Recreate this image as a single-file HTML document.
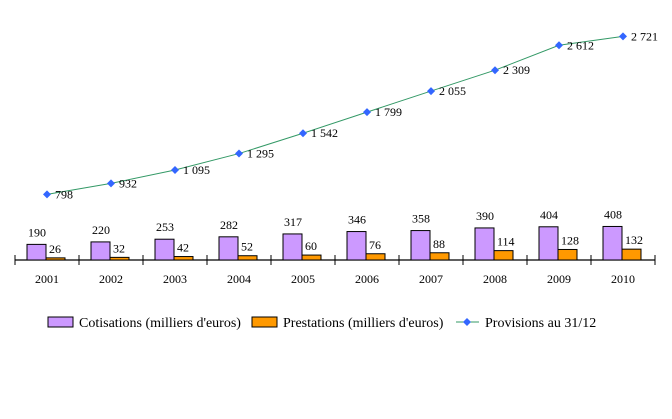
<!DOCTYPE html>
<html><head><meta charset="utf-8"><style>
body{margin:0;background:#fff;}
svg{display:block;}
svg text{font-family:"Liberation Serif","DejaVu Serif",serif;}
</style></head><body>
<svg id="chart" width="672" height="419"></svg>
<script>
const years=["2001","2002","2003","2004","2005","2006","2007","2008","2009","2010"];
const cotisations=[190,220,253,282,317,346,358,390,404,408];
const prestations=[26,32,42,52,60,76,88,114,128,132];
const provisions=[798,932,1095,1295,1542,1799,2055,2309,2612,2721];
const provLabels=["798","932","1 095","1 295","1 542","1 799","2 055","2 309","2 612","2 721"];
const NS="http://www.w3.org/2000/svg";
const svg=document.getElementById('chart');
const x0=15,cw=64,base=260,k=0.0822;
const y=v=>base-v*k;
const cx=i=>x0+cw*i+cw/2;
function mk(t,a,txt){const e=document.createElementNS(NS,t);for(const n in a)e.setAttribute(n,a[n]);if(txt!=null){e.textContent=txt;e.setAttribute('font-family','Liberation Serif, serif');}svg.appendChild(e);return e;}
let e=mk('line',{x1:x0,y1:base,x2:x0+cw*10,y2:base,stroke:'#000','stroke-width':1.3});


for(let i=0;i<=10;i++){e=mk('line',{x1:x0+cw*i,y1:base-5,x2:x0+cw*i,y2:base+5,stroke:'#000'});

}
years.forEach((yr,i)=>{
 const c=cx(i);
 e=mk('rect',{x:c-20,y:y(cotisations[i]),width:19,height:cotisations[i]*k,fill:'#cc99ff',stroke:'#000','stroke-width':1});
 
 
 e=mk('rect',{x:c-1,y:y(prestations[i]),width:19,height:prestations[i]*k,fill:'#ff9900',stroke:'#000','stroke-width':1});
 
 
 e=mk('text',{x:c-10,y:y(cotisations[i])-8,'font-size':12,'text-anchor':'middle'},String(cotisations[i]));
 
 
 e=mk('text',{x:c+2,y:y(prestations[i])-5,'font-size':12},String(prestations[i]));
 
 
 e=mk('text',{x:c,y:283,'font-size':12,'text-anchor':'middle'},yr);
 
 
});
e=mk('polyline',{points:provisions.map((v,i)=>cx(i)+','+y(v)).join(' '),fill:'none',stroke:'#339966','stroke-width':1});


provisions.forEach((v,i)=>{
 const c=cx(i),yy=y(v);
 e=mk('polygon',{points:`${c},${yy-4} ${c+4},${yy} ${c},${yy+4} ${c-4},${yy}`,fill:'#3366ff'});
 
 
 e=mk('text',{x:c+8,y:yy+4,'font-size':12},provLabels[i]);
 
 
});
e=mk('rect',{x:48,y:317,width:25,height:10,fill:'#cc99ff',stroke:'#000'});


e=mk('text',{x:79,y:327,'font-size':14},"Cotisations (milliers d'euros)");


e=mk('rect',{x:252,y:317,width:25,height:10,fill:'#ff9900',stroke:'#000'});


e=mk('text',{x:283,y:327,'font-size':14},"Prestations (milliers d'euros)");


e=mk('line',{x1:456,y1:322,x2:479,y2:322,stroke:'#339966'});


e=mk('polygon',{points:'467,318 471,322 467,326 463,322',fill:'#3366ff'});


e=mk('text',{x:485,y:327,'font-size':14},"Provisions au 31/12");


</script>
</body></html>
